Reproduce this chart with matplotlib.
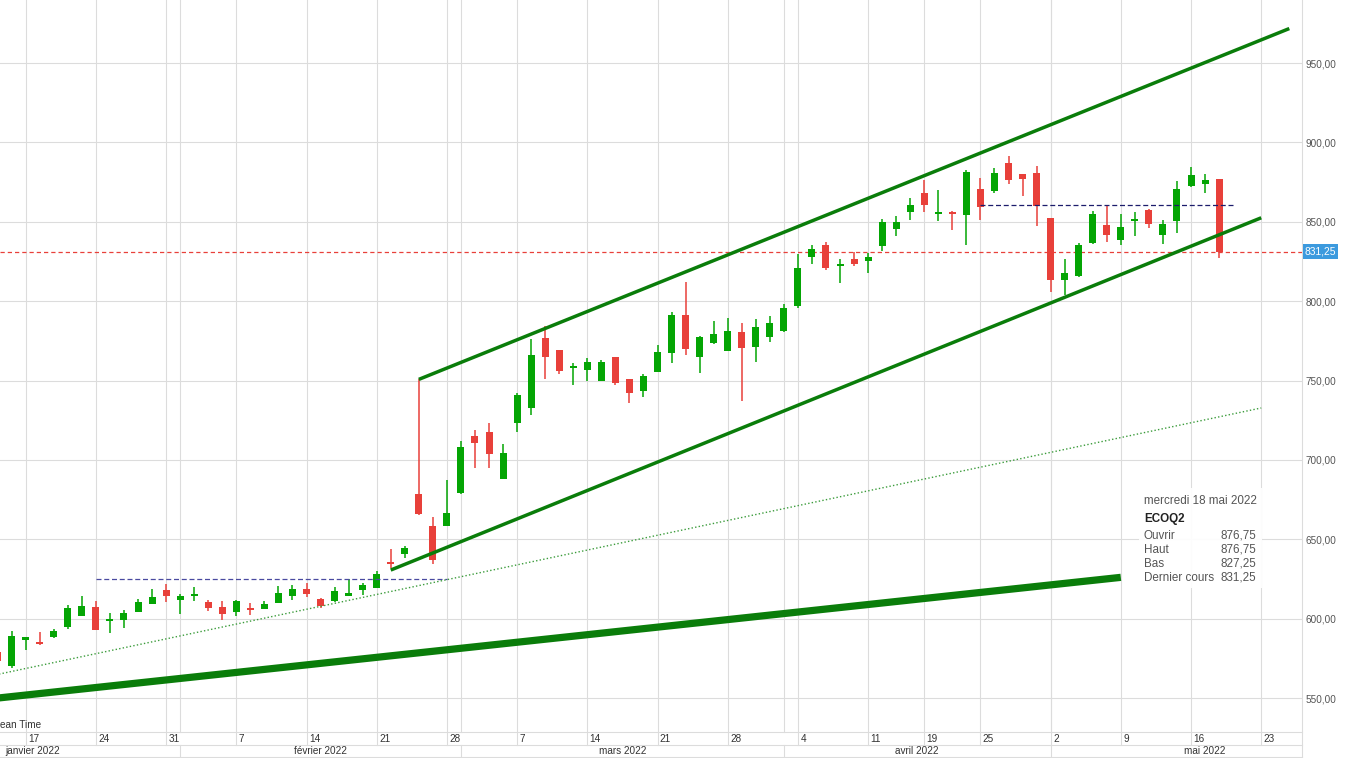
import matplotlib
matplotlib.use("Agg")
import matplotlib.pyplot as plt
import pandas as pd
import numpy as np
from matplotlib.patches import Rectangle

plt.rcParams['font.family'] = ['Liberation Sans', 'DejaVu Sans']

# ---------------- data ----------------
dates = ["2022-01-13", "2022-01-14", "2022-01-17", "2022-01-18", "2022-01-19", "2022-01-20", "2022-01-21",
         "2022-01-24", "2022-01-25", "2022-01-26", "2022-01-27", "2022-01-28",
         "2022-01-31", "2022-02-01", "2022-02-02", "2022-02-03", "2022-02-04",
         "2022-02-07", "2022-02-08", "2022-02-09", "2022-02-10", "2022-02-11",
         "2022-02-14", "2022-02-15", "2022-02-16", "2022-02-17", "2022-02-18",
         "2022-02-21", "2022-02-22", "2022-02-23", "2022-02-24", "2022-02-25",
         "2022-02-28", "2022-03-01", "2022-03-02", "2022-03-03", "2022-03-04",
         "2022-03-07", "2022-03-08", "2022-03-09", "2022-03-10", "2022-03-11",
         "2022-03-14", "2022-03-15", "2022-03-16", "2022-03-17", "2022-03-18",
         "2022-03-21", "2022-03-22", "2022-03-23", "2022-03-24", "2022-03-25",
         "2022-03-28", "2022-03-29", "2022-03-30", "2022-03-31", "2022-04-01",
         "2022-04-04", "2022-04-05", "2022-04-06", "2022-04-07", "2022-04-08",
         "2022-04-11", "2022-04-12", "2022-04-13", "2022-04-14",
         "2022-04-19", "2022-04-20", "2022-04-21", "2022-04-22",
         "2022-04-25", "2022-04-26", "2022-04-27", "2022-04-28", "2022-04-29",
         "2022-05-02", "2022-05-03", "2022-05-04", "2022-05-05", "2022-05-06",
         "2022-05-09", "2022-05-10", "2022-05-11", "2022-05-12", "2022-05-13",
         "2022-05-16", "2022-05-17", "2022-05-18"]

opens = [579.0, 570.2, 586.7, 584.8, 588.6, 594.9, 601.9,
         607.3, 598.7, 599.1, 604.4, 609.4,
         618.0, 611.9, 614.1, 610.3, 607.3,
         603.9, 606.7, 606.1, 610.0, 614.4,
         618.7, 612.4, 611.1, 614.4, 618.0,
         619.3, 635.7, 640.9, 678.5, 658.3,
         658.5, 679.3, 715.0, 717.6, 688.1,
         723.4, 732.9, 776.8, 769.2, 758.1,
         756.8, 749.9, 764.8, 750.9, 743.5,
         755.6, 767.5, 791.3, 765.0, 773.6,
         768.8, 780.6, 771.3, 777.6, 780.9,
         797.0, 828.0, 835.4, 822.3, 826.5,
         825.3, 835.0, 845.4, 856.1,
         868.1, 854.7, 856.1, 854.3,
         870.6, 869.4, 887.0, 880.1, 880.7,
         852.4, 813.3, 815.8, 836.6, 847.9,
         838.5, 850.5, 857.4, 841.7, 850.5,
         872.5, 874.0, 876.75]

highs = [580.5, 592.4, 588.5, 591.8, 593.5, 608.6, 614.4,
         611.1, 603.7, 605.4, 612.4, 618.7,
         621.8, 615.3, 620.1, 611.7, 611.1,
         611.7, 610.1, 610.9, 620.6, 621.2,
         622.6, 613.2, 620.1, 625.0, 622.6,
         630.0, 643.9, 645.7, 751.1, 664.0,
         687.3, 711.9, 718.8, 723.2, 710.0,
         742.1, 776.1, 784.4, 769.5, 760.8,
         764.2, 762.9, 765.0, 751.2, 754.1,
         772.4, 793.0, 812.2, 778.0, 787.5,
         789.4, 786.3, 788.7, 790.9, 798.2,
         829.7, 835.4, 837.2, 826.5, 830.9,
         830.3, 851.7, 853.6, 864.9,
         876.3, 870.0, 856.8, 882.6,
         877.6, 883.8, 891.4, 880.3, 885.1,
         852.6, 826.5, 836.6, 856.8, 860.5,
         854.7, 856.1, 858.0, 851.1, 875.7,
         884.5, 880.1, 876.75]

lows = [571.5, 568.7, 580.2, 583.4, 587.6, 593.5, 601.5,
        592.8, 591.2, 594.3, 604.0, 609.0,
        610.5, 602.9, 611.3, 605.0, 599.1,
        601.9, 602.3, 605.8, 609.8, 611.7,
        613.8, 606.9, 610.3, 614.2, 615.1,
        619.0, 631.7, 638.4, 665.4, 634.6,
        658.2, 678.7, 695.1, 695.1, 688.0,
        717.7, 728.4, 751.1, 754.4, 747.4,
        749.9, 749.6, 747.4, 736.0, 739.8,
        755.3, 761.2, 766.1, 754.9, 773.2,
        768.5, 737.3, 761.7, 774.5, 780.6,
        795.9, 823.4, 819.7, 811.6, 822.3,
        817.9, 831.6, 841.0, 851.1,
        856.1, 850.5, 844.8, 835.4,
        851.1, 868.1, 873.8, 866.2, 847.3,
        805.7, 803.9, 815.5, 836.0, 837.2,
        835.4, 841.0, 846.0, 836.0, 842.9,
        872.2, 868.1, 827.25]

closes = [573.0, 589.1, 588.2, 584.2, 592.2, 606.5, 608.0,
          593.1, 599.6, 603.7, 610.5, 613.6,
          614.4, 614.3, 615.7, 606.9, 602.6,
          610.9, 605.4, 609.4, 616.1, 618.4,
          615.7, 608.1, 617.4, 616.0, 621.2,
          628.1, 634.6, 644.5, 665.9, 637.1,
          666.5, 708.1, 710.8, 703.9, 704.3,
          740.9, 766.1, 765.0, 756.2, 759.1,
          761.7, 761.7, 748.6, 742.3, 752.8,
          768.0, 791.3, 770.0, 777.4, 779.3,
          781.2, 770.7, 783.7, 786.2, 795.7,
          820.9, 832.8, 821.1, 823.4, 823.4,
          827.8, 849.8, 849.8, 860.5,
          860.7, 856.1, 855.1, 881.3,
          859.3, 880.7, 876.3, 876.9, 860.1,
          813.3, 817.7, 835.4, 854.7, 841.7,
          846.7, 851.1, 848.6, 848.6, 870.6,
          879.4, 876.3, 831.25]

# drawn trend lines: (start date, start value, end date, end value)
upper_channel = ("2022-02-24", 750.7, "2022-05-25", 971.7)
lower_channel = ("2022-02-22", 630.6, "2022-05-23", 852.5)
dotted_trend = ("2022-01-12", 563.0, "2022-05-23", 732.7)
thick_trend = ("2022-01-12", 549.0, "2022-05-09", 626.0)
resist1 = ("2022-01-24", 624.75, "2022-02-28")
resist2 = ("2022-04-25", 860.5, "2022-05-19")
last_price = 831.25

y_ticks = [550, 600, 650, 700, 750, 800, 850, 900, 950]
months_fr = {1: "janvier", 2: "février", 3: "mars", 4: "avril", 5: "mai", 6: "juin"}

timezone_visible = "ean Time"
tooltip_date = "mercredi 18 mai 2022"
tooltip_symbol = "ECOQ2"
tooltip_rows = [("Ouvrir", "876,75"), ("Haut", "876,75"), ("Bas", "827,25"), ("Dernier cours", "831,25")]

# ---------------- trading calendar (x positions) ----------------
cal = pd.bdate_range("2022-01-03", "2022-06-30")
cal = cal[~cal.isin(pd.to_datetime(["2022-04-15", "2022-04-18"]))]
pos = {d: i for i, d in enumerate(cal)}

def P(d):
    d = pd.Timestamp(d)
    if d in pos:
        return pos[d]
    before = cal[cal < d]
    return pos[before[-1]] + 0.5

x = np.array([P(d) for d in dates], dtype=float)
o = np.array(opens); h = np.array(highs); l = np.array(lows); c = np.array(closes)

GREEN = "#04a504"
RED = "#e8403a"
GRID = "#dcdcdc"
LINEG = "#0a7d0a"

fig = plt.figure(figsize=(13.46, 7.58), dpi=100)
ax = fig.add_axes([0, 26 / 758, 1302 / 1346, 732 / 758])

i17 = P("2022-01-17")
ppx = 14.04
xmin = i17 - 25.7 / ppx
xmax = i17 + (1302 - 25.7) / ppx
ax.set_xlim(xmin, xmax)
ymin = 550 - 34 / 1.5875
ymax = 550 + 698 / 1.5875
ax.set_ylim(ymin, ymax)

for s in ["top", "left", "right"]:
    ax.spines[s].set_visible(False)
ax.spines["bottom"].set_color(GRID)

# y axis
ax.set_yticks(y_ticks)
ax.set_yticklabels([f"{v:.2f}".replace(".", ",") for v in y_ticks])
ax.yaxis.tick_right()
ax.tick_params(axis="y", length=0, pad=2.5, labelsize=7.2, labelcolor="#555555")
ax.grid(axis="y", color=GRID, lw=0.8)

week_starts = []
prev_week = None
for d in cal:
    wk = d.isocalendar()[1]
    if wk != prev_week:
        week_starts.append(d)
        prev_week = wk
month_starts = []
prev_m = None
for d in cal:
    if d.month != prev_m:
        month_starts.append(d)
        prev_m = d.month

ax.set_xticks([])
ytr = ax.get_xaxis_transform()
day_row = -13 / 732
month_row = -25 / 732
for d in week_starts:
    xp = pos[d]
    if xmin - 1 < xp < xmax:
        ax.plot([xp, xp], [day_row, 1], color=GRID, lw=0.8, transform=ytr, clip_on=False, zorder=0)
        if xp < xmax - 0.3:
            ax.text(xp + 0.17, -6.5 / 732, str(d.day), transform=ytr, fontsize=7.2,
                    color="#333333", ha="left", va="center", clip_on=False)
for d in month_starts:
    xp = pos[d]
    if xmin < xp < xmax:
        ax.plot([xp, xp], [0, 1], color=GRID, lw=0.8, transform=ytr, clip_on=False, zorder=0)
        ax.plot([xp, xp], [month_row, day_row], color=GRID, lw=0.8, transform=ytr, clip_on=False, zorder=0)
# month labels centred on month span
for k, d in enumerate(month_starts[:-1]):
    a = pos[d]
    b = pos[month_starts[k + 1]]
    mid = (a + b) / 2
    if xmin - 5 < mid < xmax:
        ax.text(mid, -19 / 732, f"{months_fr[d.month]} {d.year}", transform=ytr, fontsize=7.2,
                color="#333333", ha="center", va="center", clip_on=False)
# bottom rows borders
ax.plot([0, 1], [day_row, day_row], color=GRID, lw=0.8, transform=ax.transAxes, clip_on=False)
ax.plot([0, 1], [month_row, month_row], color=GRID, lw=0.8, transform=ax.transAxes, clip_on=False)
ax.plot([1, 1], [-26 / 732, 1], color=GRID, lw=0.8, transform=ax.transAxes, clip_on=False)

# candles
up = c >= o
colors = np.where(up, GREEN, RED)
body_lo = np.minimum(o, c)
body_h = np.maximum(np.abs(c - o), 1.3)
ax.vlines(x, l, h, colors=colors, lw=1.1, zorder=3)
ax.bar(x, body_h, bottom=body_lo, width=0.5, color=colors, linewidth=0, zorder=4)

# horizontal reference lines
ax.axhline(last_price, color=RED, lw=0.9, dashes=(3.4, 2.4), zorder=2)
ax.plot([P(resist1[0]), P(resist1[2])], [resist1[1]] * 2, color="#4a4aa0", lw=0.9,
        dashes=(4, 2.2), zorder=5)
ax.plot([P(resist2[0]), P(resist2[2])], [resist2[1]] * 2, color="#1c1c6c", lw=0.9,
        dashes=(4, 2.2), zorder=5)

def seg(spec, **kw):
    ax.plot([P(spec[0]), P(spec[2])], [spec[1], spec[3]], solid_capstyle="butt", **kw)

seg(dotted_trend, color="#3c9c3c", lw=1.0, linestyle=(0, (1, 1.6)), zorder=5)
seg(thick_trend, color=LINEG, lw=5.2, zorder=6)
seg(upper_channel, color=LINEG, lw=2.5, zorder=6)
seg(lower_channel, color=LINEG, lw=2.5, zorder=6)

# time zone note (only its tail is visible in the reference)
ax.text(0.0, 7 / 732, timezone_visible, transform=ax.transAxes, fontsize=7.2,
        color="#333333", ha="left", va="center")

# last price label
ax.text(1.0022, last_price, "831,25", transform=ax.get_yaxis_transform(), fontsize=7.4,
        color="white", ha="left", va="center", clip_on=False,
        bbox=dict(boxstyle="square,pad=0.2", fc="#3c9ade", ec="none"))

# tooltip box
bx0, bx1 = 1139 / 1302, 1262 / 1302
by0, by1 = 144 / 732, 244 / 732
ax.add_patch(Rectangle((bx0, by0), bx1 - bx0, by1 - by0, transform=ax.transAxes,
                       fc="white", ec="none", alpha=0.93, zorder=10))
tx = 1144 / 1302
tr = 1256 / 1302
fs = 8.4
ax.text(tx, 231 / 732, tooltip_date, transform=ax.transAxes, fontsize=fs, color="#555555",
        ha="left", va="center", zorder=11)
ax.text(tx, 213 / 732, tooltip_symbol, transform=ax.transAxes, fontsize=fs, color="#222222",
        fontweight="bold", ha="left", va="center", zorder=11)
row_y = [196, 182, 168, 154]
for (lab, val), yy in zip(tooltip_rows, row_y):
    ax.text(tx, yy / 732, lab, transform=ax.transAxes, fontsize=fs, color="#555555",
            ha="left", va="center", zorder=11)
    ax.text(tr, yy / 732, val, transform=ax.transAxes, fontsize=fs, color="#555555",
            ha="right", va="center", zorder=11)

fig.savefig("out.png", dpi=100, facecolor="white")
